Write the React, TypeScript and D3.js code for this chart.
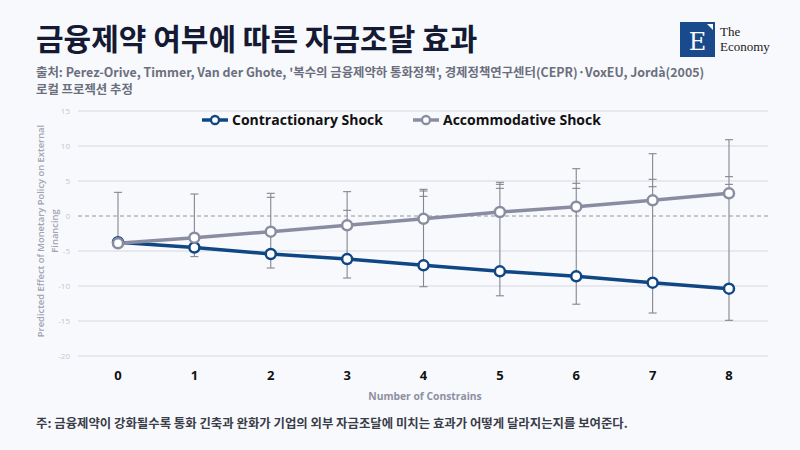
import React from "react";
import * as d3 from "d3";

const categories = [0, 1, 2, 3, 4, 5, 6, 7, 8];
const contractionary = [-3.75, -4.5, -5.43, -6.15, -7.05, -7.9, -8.62, -9.52, -10.38];
const accommodative = [-3.9, -3.1, -2.24, -1.33, -0.4, 0.57, 1.33, 2.24, 3.24];
const errTopA = [3.38, 3.14, 3.24, 3.48, 3.81, 4.81, 6.76, 8.9, 10.9];
const errTopB: (number | null)[] = [null, null, 2.67, 0.81, 3.57, 4.52, 4.67, 5.24, 5.62];
const errTopC: (number | null)[] = [null, null, null, null, 2.81, 3.95, 3.95, 4.19, 4.52];
const errBottom: (number | null)[] = [null, -5.8, -7.43, -8.86, -10.1, -11.4, -12.6, -13.86, -14.9];
const yTicks = [15, 10, 5, 0, -5, -10, -15, -20];

const W = 800;
const H = 450;
const KR = "'Noto Sans CJK KR', 'Noto Sans', sans-serif";
const EN = "'Open Sans', 'Noto Sans', sans-serif";
const BLUE = "#0f4784";
const GREY = "#8a8da2";
const ERR = "#85858f";

export default function App() {
  const x = d3.scalePoint<number>().domain(categories).range([118, 729]);
  const y = d3.scaleLinear().domain([-20, 15]).range([356, 111]);
  const line = d3
    .line<number>()
    .x((_, i) => x(categories[i]) as number)
    .y((d) => y(d));

  const capW = 4;

  return (
    <svg width={W} height={H} style={{ position: "absolute", left: 0, top: 0, background: "#f8f9fd" }}>
      <rect x={0} y={0} width={W} height={H} fill="#f8f9fd" />
      {/* Title */}
      <text x={36} y={50} fontFamily={KR} fontWeight={700} fontSize={30} fill="#141a33">
        금융제약 여부에 따른 자금조달 효과
      </text>
      <text x={36} y={77} fontFamily={KR} fontWeight={700} fontSize={12.4} fill="#6b6f7c">
        출처: Perez-Orive, Timmer, Van der Ghote, '복수의 금융제약하 통화정책', 경제정책연구센터(CEPR)·VoxEU, Jordà(2005)
      </text>
      <text x={36} y={94} fontFamily={KR} fontWeight={700} fontSize={12.4} fill="#6b6f7c">
        로컬 프로젝션 추정
      </text>
      {/* Logo */}
      <rect x={680} y={22} width={35} height={35} fill="#184a8c" />
      <path d="M707,24 L713,24 L713,30 Z" fill="#ffffff" />
      <text x={697.5} y={50} textAnchor="middle" fontFamily="'DejaVu Serif', 'Liberation Serif', serif" fontSize={24} fill="#ffffff">
        E
      </text>
      <text x={720} y={36} fontFamily="'Liberation Serif', serif" fontSize={13} fill="#1a1a1a">
        The
      </text>
      <text x={720} y={51} fontFamily="'Liberation Serif', serif" fontSize={13} fill="#1a1a1a">
        Economy
      </text>

      {/* Grid */}
      {yTicks.map((t) =>
        t === 0 ? (
          <line key={t} x1={78} x2={768} y1={y(t)} y2={y(t)} stroke="#8a8a90" strokeWidth={0.9} strokeDasharray="4,3" />
        ) : (
          <line key={t} x1={78} x2={768} y1={y(t)} y2={y(t)} stroke="#d6d8e0" strokeWidth={1} />
        )
      )}
      {yTicks.map((t) => (
        <text key={"l" + t} x={70} y={y(t) + 3} textAnchor="end" fontFamily={EN} fontSize={8} fill="#c3c6d2">
          {t}
        </text>
      ))}

      {/* Y axis title */}
      <g transform={`translate(44, 231) rotate(-90)`}>
        <text x={0} y={0} textAnchor="middle" fontFamily={EN} fontWeight={600} fontSize={9.4} fill="#a0a3b2">
          Predicted Effect of Monetary Policy on External
        </text>
        <text x={0} y={14} textAnchor="middle" fontFamily={EN} fontWeight={600} fontSize={9.4} fill="#a0a3b2">
          Financing
        </text>
      </g>

      {/* Error bars */}
      {categories.map((c, i) => {
        const cx = x(c) as number;
        const tops = [errTopA[i], errTopB[i], errTopC[i]].filter((v) => v !== null) as number[];
        const bottom = errBottom[i] !== null ? (errBottom[i] as number) : Math.min(contractionary[i], accommodative[i]);
        const caps = [...tops];
        if (errBottom[i] !== null) caps.push(errBottom[i] as number);
        return (
          <g key={"e" + c}>
            <line x1={cx} x2={cx} y1={y(d3.max(tops) as number)} y2={y(bottom)} stroke={ERR} strokeWidth={1.1} />
            {caps.map((v, k) => (
              <line key={k} x1={cx - capW} x2={cx + capW} y1={y(v)} y2={y(v)} stroke={ERR} strokeWidth={1.1} />
            ))}
          </g>
        );
      })}

      {/* Lines */}
      <path d={line(contractionary) || ""} fill="none" stroke={BLUE} strokeWidth={3.5} />
      <path d={line(accommodative) || ""} fill="none" stroke={GREY} strokeWidth={3.5} />
      {contractionary.map((v, i) => (
        <circle key={"c" + i} cx={x(categories[i]) as number} cy={y(v)} r={5} fill="#ffffff" stroke={BLUE} strokeWidth={2.5} />
      ))}
      {accommodative.map((v, i) => (
        <circle key={"a" + i} cx={x(categories[i]) as number} cy={y(v)} r={5} fill="#ffffff" stroke={GREY} strokeWidth={2.5} />
      ))}

      {/* Legend */}
      <line x1={202} x2={228} y1={120} y2={120} stroke={BLUE} strokeWidth={3.5} />
      <circle cx={215} cy={120} r={4} fill="#ffffff" stroke={BLUE} strokeWidth={2.3} />
      <text x={232} y={125} fontFamily={EN} fontWeight={700} fontSize={14} fill="#111111">
        Contractionary Shock
      </text>
      <line x1={413} x2={439} y1={120} y2={120} stroke={GREY} strokeWidth={3.5} />
      <circle cx={426} cy={120} r={4} fill="#ffffff" stroke={GREY} strokeWidth={2.3} />
      <text x={443} y={125} fontFamily={EN} fontWeight={700} fontSize={14} fill="#111111">
        Accommodative Shock
      </text>

      {/* X labels */}
      {categories.map((c) => (
        <text key={"x" + c} x={x(c) as number} y={380} textAnchor="middle" fontFamily={EN} fontWeight={700} fontSize={13} fill="#111111">
          {c}
        </text>
      ))}
      <text x={425} y={400} textAnchor="middle" fontFamily={EN} fontWeight={700} fontSize={10.3} fill="#8d90a0">
        Number of Constrains
      </text>

      {/* Footnote */}
      <text x={36} y={428} fontFamily={KR} fontWeight={700} fontSize={12.4} fill="#3a3d48">
        주: 금융제약이 강화될수록 통화 긴축과 완화가 기업의 외부 자금조달에 미치는 효과가 어떻게 달라지는지를 보여준다.
      </text>
    </svg>
  );
}
